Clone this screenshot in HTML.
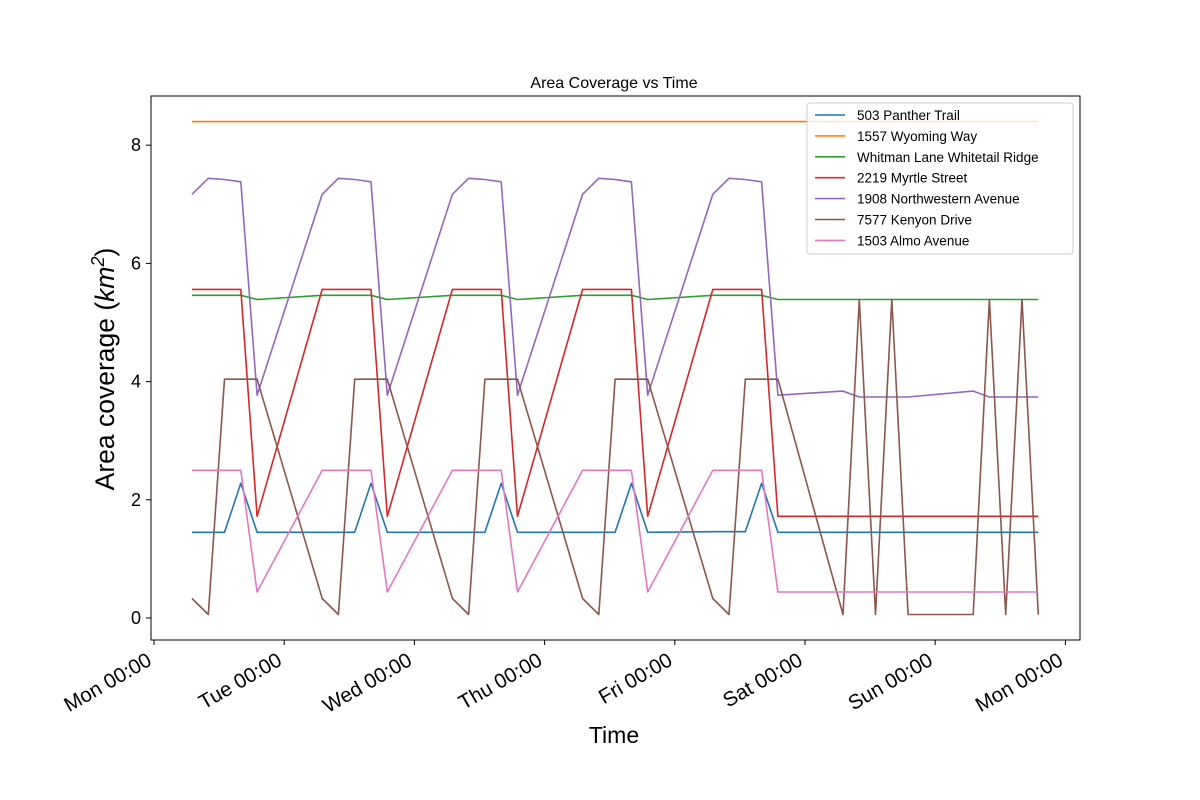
<!DOCTYPE html>
<html><head><meta charset="utf-8"><style>
body{margin:0;background:#fff;}
svg{display:block;font-family:"Liberation Sans","DejaVu Sans",sans-serif;}
</style></head><body>
<svg id="chart" width="1200" height="800">
<rect width="1200" height="800" fill="#fff"/>
<text x="614" y="88" font-size="16" text-anchor="middle">Area Coverage vs Time</text>
<text x="614" y="743" font-size="23" text-anchor="middle">Time</text>
<text transform="translate(114,369) rotate(-90)" font-size="26.5" text-anchor="middle">Area coverage (<tspan font-style="italic">km</tspan><tspan font-size="18" dy="-10" font-style="italic">2</tspan><tspan dy="10">)</tspan></text>
<g id="plot"></g>
</svg>
<script>
const xTickLabels=["Mon 00:00","Tue 00:00","Wed 00:00","Thu 00:00","Fri 00:00","Sat 00:00","Sun 00:00","Mon 00:00"];
const xTickHours=[0,24,48,72,96,120,144,168];
const yTicks=[0,2,4,6,8];
const seriesNames=["503 Panther Trail","1557 Wyoming Way","Whitman Lane Whitetail Ridge","2219 Myrtle Street","1908 Northwestern Avenue","7577 Kenyon Drive","1503 Almo Avenue"];
const seriesColors=["#1f77b4","#ff7f0e","#2ca02c","#d62728","#9467bd","#8c564b","#e377c2"];
const blueHours=[7,13,16,19,31,37,40,43,55,61,64,67,79,85,88,91,103,109,112,115,163];
const blueValues=[1.45,1.45,2.28,1.45,1.45,1.45,2.28,1.45,1.45,1.45,2.28,1.45,1.45,1.45,2.28,1.45,1.46,1.46,2.28,1.45,1.45];
const orangeHours=[7,163];
const orangeValues=[8.4,8.4];
const stepHours=[7,16,19,31,40,43,55,64,67,79,88,91,103,112,115,163];
const greenValues=[5.46,5.46,5.39,5.46,5.46,5.39,5.46,5.46,5.39,5.46,5.46,5.39,5.46,5.46,5.39,5.39];
const redValues=[5.56,5.56,1.72,5.56,5.56,1.72,5.56,5.56,1.72,5.56,5.56,1.72,5.56,5.56,1.72,1.72];
const pinkValues=[2.5,2.5,0.44,2.5,2.5,0.44,2.5,2.5,0.44,2.5,2.5,0.44,2.5,2.5,0.44,0.44];
const purpleHours=[7,10,13,16,19,31,34,37,40,43,55,58,61,64,67,79,82,85,88,91,103,106,109,112,115,127,130,139,151,154,163];
const purpleValues=[7.17,7.44,7.42,7.38,3.77,7.17,7.44,7.42,7.38,3.77,7.17,7.44,7.42,7.38,3.77,7.17,7.44,7.42,7.38,3.77,7.17,7.44,7.42,7.38,3.77,3.84,3.74,3.74,3.84,3.74,3.74];
const brownHours=[7,10,13,16,19,31,34,37,40,43,55,58,61,64,67,79,82,85,88,91,103,106,109,112,115,127,130,133,136,139,151,154,157,160,163];
const brownValues=[0.33,0.06,4.04,4.04,4.04,0.33,0.06,4.04,4.04,4.04,0.33,0.06,4.04,4.04,4.04,0.33,0.06,4.04,4.04,4.04,0.33,0.06,4.04,4.04,4.04,0.06,5.39,0.06,5.39,0.06,0.06,5.39,0.06,5.39,0.06];

const NS="http://www.w3.org/2000/svg";
const g=document.getElementById('plot');
const X=h=>154+h*130.2/24;
const Y=v=>618-v*59.1;
function mk(t,a,p){const e=document.createElementNS(NS,t);for(const k in a)e.setAttribute(k,a[k]);(p||g).appendChild(e);return e;}

const frame=mk('rect',{x:151,y:96,width:929,height:544,fill:'none',stroke:'#000','stroke-width':1});



xTickHours.forEach((h,i)=>{
  const x=X(h);
  const t=mk('line',{x1:x,x2:x,y1:640,y2:645,stroke:'#000'});
  
  
  const lx=x-1, ly=664;
  const l=mk('text',{x:lx,y:ly,'font-size':20.5,'text-anchor':'end',transform:`rotate(-30 ${lx} ${ly})`});
  l.textContent=xTickLabels[i];
  
  
});
yTicks.forEach(v=>{
  const y=Y(v);
  const t=mk('line',{x1:146,x2:151,y1:y,y2:y,stroke:'#000'});
  
  
  const l=mk('text',{x:141,y:y+6,'font-size':18,'text-anchor':'end'});
  l.textContent=v;
  
  
});

const series=[[blueHours,blueValues],[orangeHours,orangeValues],[stepHours,greenValues],[stepHours,redValues],[purpleHours,purpleValues],[brownHours,brownValues],[stepHours,pinkValues]];
series.forEach((s,i)=>{
  const pts=s[0].map((h,j)=>X(h).toFixed(1)+','+Y(s[1][j]).toFixed(1)).join(' ');
  const p=mk('polyline',{points:pts,fill:'none',stroke:seriesColors[i],'stroke-width':1.6,'stroke-linejoin':'round'});
  
  
});

const lg=mk('g',{});


mk('rect',{x:807,y:103,width:266,height:151,rx:3,fill:'#fff','fill-opacity':0.8,stroke:'#ccc'},lg);
seriesNames.forEach((n,i)=>{
  const y=115+i*20.9;
  const ln=mk('line',{x1:815,x2:845,y1:y,y2:y,stroke:seriesColors[i],'stroke-width':1.6},lg);
  
  
  const t=mk('text',{x:857,y:y+5,'font-size':13.5},lg);
  t.textContent=n;
  
  
});
</script>
</body></html>
